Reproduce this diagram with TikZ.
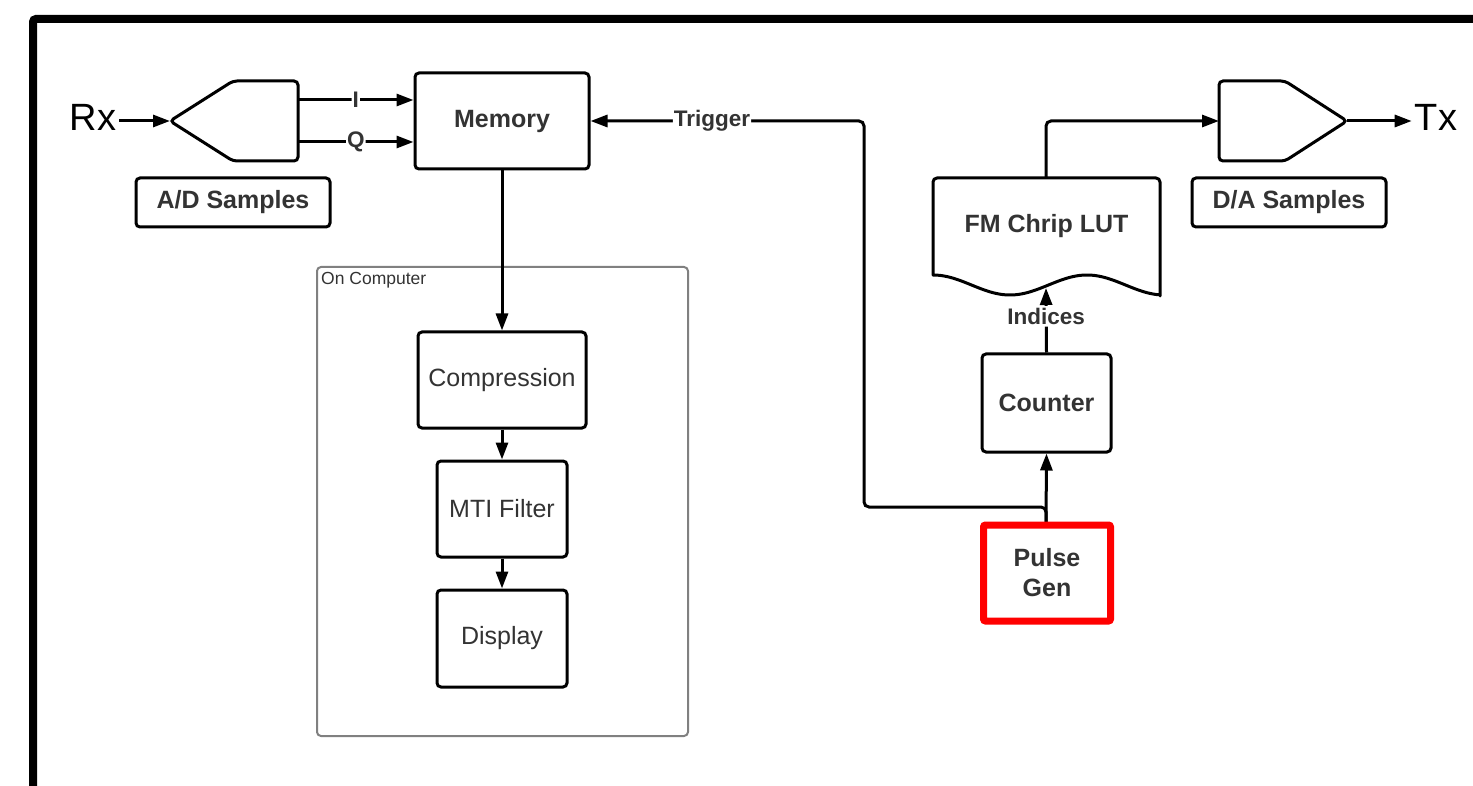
\documentclass[tikz,border=0pt]{standalone}
\usepackage{fontspec}
\setmainfont{Liberation Sans}
\usetikzlibrary{arrows.meta}
\definecolor{txt}{HTML}{333333}
\definecolor{grp}{HTML}{808080}
\definecolor{pulsered}{HTML}{FF0000}
\begin{document}
\begin{tikzpicture}[x=1pt,y=-1pt,
  box/.style={draw=black,line width=3pt,rounded corners=4pt,fill=white,text=txt,
    font=\fontsize{25}{30}\selectfont,align=center,inner sep=0pt},
  bbox/.style={box,font=\fontsize{25}{30}\selectfont\bfseries},
  conn/.style={draw=black,line width=3pt,rounded corners=5pt,
    -{Triangle[length=17pt,width=12pt]}},
  lbl/.style={fill=white,text=txt,font=\fontsize{22.5}{27}\selectfont\bfseries,
    inner xsep=1pt,inner ysep=2pt},
  big/.style={font=\fontsize{38}{40}\selectfont,text=black,inner ysep=0pt,inner xsep=3pt},
  conv/.style={draw=black,line width=3pt,rounded corners=4pt,fill=white}]
\useasboundingbox (0,0) rectangle (1473,786);

% outer frame (runs off the right and bottom edges)
\draw[line width=8pt,rounded corners=3pt] (33,820) -- (33,19) -- (1500,19);

% "On Computer" group
\draw[grp,line width=2pt,rounded corners=4pt] (317,267) rectangle (688,736);
\node[anchor=west,text=txt,font=\fontsize{17.5}{20}\selectfont,inner sep=0pt]
  (grplabel) at (321,280) {On Computer};

% A/D converter
\draw[conv] (170,121) -- (233,81) -- (298,81) -- (298,161) -- (233,161) -- cycle;
\coordinate (adctip) at (170,121);
\coordinate (adcI) at (298,100);
\coordinate (adcQ) at (298,142);

% D/A converter
\draw[conv] (1219,81) -- (1285,81) -- (1347,121) -- (1285,161) -- (1219,161) -- cycle;
\coordinate (dacin) at (1219,121);
\coordinate (dactip) at (1347,121);

% FM chirp look-up table (document shape with wavy bottom)
\draw[line width=3pt,fill=white,line join=round]
  (933,275) [rounded corners=4pt] -- (933,178) -- (1160,178) [sharp corners] -- (1160,296)
  -- plot[domain=1160:933,samples=80] (\x,{285-10*cos((\x-933)*2.3377)}) -- cycle;
\node[text=txt,font=\fontsize{25}{30}\selectfont\bfseries] (lut) at (1046.5,226) {FM Chrip LUT};
\coordinate (luttop) at (1046,178);
\coordinate (lutbot) at (1046,288);

% blocks
\node[bbox,minimum width=174pt,minimum height=96pt] (memory) at (502,121) {Memory};
\node[bbox,minimum width=194pt,minimum height=49pt] (adsamp) at (233,202.5) {A/D Samples};
\node[bbox,minimum width=194pt,minimum height=49pt] (dasamp) at (1289,202.5) {D/A Samples};
\node[box,minimum width=168pt,minimum height=96pt] (compression) at (502,380) {Compression};
\node[box,minimum width=130pt,minimum height=96pt] (mti) at (502,509) {MTI Filter};
\node[box,minimum width=130pt,minimum height=97pt] (display) at (502,638.5) {Display};
\node[bbox,minimum width=129pt,minimum height=98pt] (counter) at (1046.5,403) {Counter};

% terminals
\node[big] (rx) at (93,117) {Rx};
\node[big] (tx) at (1436,117) {Tx};

% connectors
\draw[conn] (rx.east |- adctip) -- (adctip);
\draw[conn] (adcI) -- node[lbl,pos=0.5]{I} (adcI -| memory.west);
\draw[conn] (adcQ) -- node[lbl,pos=0.5]{Q} (adcQ -| memory.west);
\draw[conn] (memory.south) -- (compression.north);
\draw[conn] (compression.south) -- (mti.north);
\draw[conn] (mti.south) -- (display.north);
\coordinate (tj) at (864,507);
\draw[conn] (1046,526) |- (tj) -- (tj |- memory.east)
  -- node[lbl,pos=0.556]{Trigger} (memory.east);
\draw[conn] (1046,526) -- (counter.south);
\draw[conn] (counter.north) -- node[lbl,pos=0.56]{Indices} (lutbot);
\draw[conn] (luttop) |- (dacin);
\draw[conn] (dactip) -- (tx.west |- dactip);

% pulse generator (highlighted)
\node[bbox,draw=pulsered,line width=7pt,rounded corners=2pt,
  minimum width=127pt,minimum height=96pt] (pulse) at (1047,573) {Pulse\\Gen};
\end{tikzpicture}
\end{document}
